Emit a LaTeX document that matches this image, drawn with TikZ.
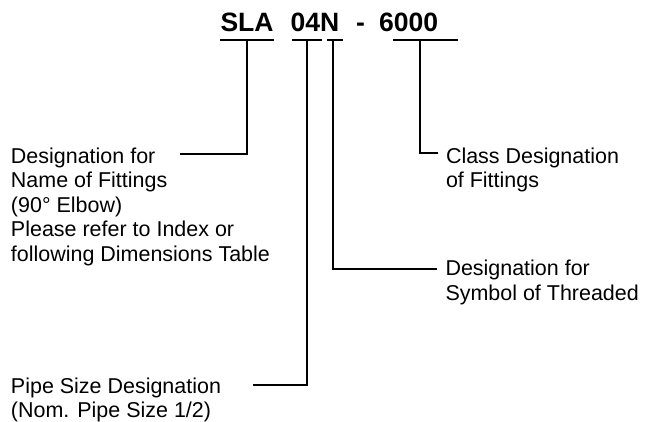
\documentclass[tikz,border=0pt]{standalone}
\usepackage{fontspec}
\setmainfont{Liberation Sans}
\begin{document}
\begin{tikzpicture}[x=0.75pt,y=-0.75pt,
  lbl/.style={anchor=base west,inner sep=0pt,outer sep=0pt,font=\fontsize{16.1}{18.4}\selectfont},
  ttl/.style={anchor=base west,inner sep=0pt,outer sep=0pt,font=\fontsize{19.9}{22}\selectfont\bfseries},
  ln/.style={line width=1.1pt,line cap=butt,line join=miter}]
\useasboundingbox (0,0) rectangle (645,421);
% title
\node[ttl] (tSLA) at (220.5,31.7) {SLA};
\node[ttl] (t04) at (290.5,31.7) {04N};
\node[ttl] (tdash) at (356,31.7) {-};
\node[ttl] (t6000) at (379,31.7) {6000};
% underlines
\draw[ln] (220,40) -- (274,40);
\draw[ln] (292,40) -- (322,40);
\draw[ln] (327,40) -- (343,40);
\draw[ln] (393,40) -- (458,40);
\coordinate (uSLA) at (247,40);
\coordinate (u04) at (307,40);
\coordinate (uN) at (333,40);
\coordinate (u6000) at (420,40);
% left block
\node[lbl] (a1) at (11,163) {Designation for};
\node[lbl] (a2) at (11,187.5) {Name of Fittings};
\node[lbl] (a3) at (11,212) {(90° Elbow)};
\node[lbl] (a4) at (11,236.5) {Please refer to Index or};
\node[lbl] (a5) at (11,261) {following Dimensions Table};
% class
\node[lbl] (c1) at (446,163) {Class Designation};
\node[lbl] (c2) at (446,187.5) {of Fittings};
% threaded
\node[lbl] (d1) at (445.5,275.5) {Designation for};
\node[lbl] (d2) at (445.5,300) {Symbol of Threaded};
% pipe size
\node[lbl] (p1) at (11,393) {Pipe Size Designation};
\node[lbl] (p2) at (11,417.5) {(Nom. Pipe Size 1/2)};
% connector ends
\coordinate (eSLA) at (180,154);
\coordinate (e04) at (253,385);
\coordinate (eN) at (437,269);
\coordinate (e6000) at (438,153);
\draw[ln] (uSLA) |- (eSLA);
\draw[ln] (u04) |- (e04);
\draw[ln] (uN) |- (eN);
\draw[ln] (u6000) |- (e6000);
\end{tikzpicture}
\end{document}
